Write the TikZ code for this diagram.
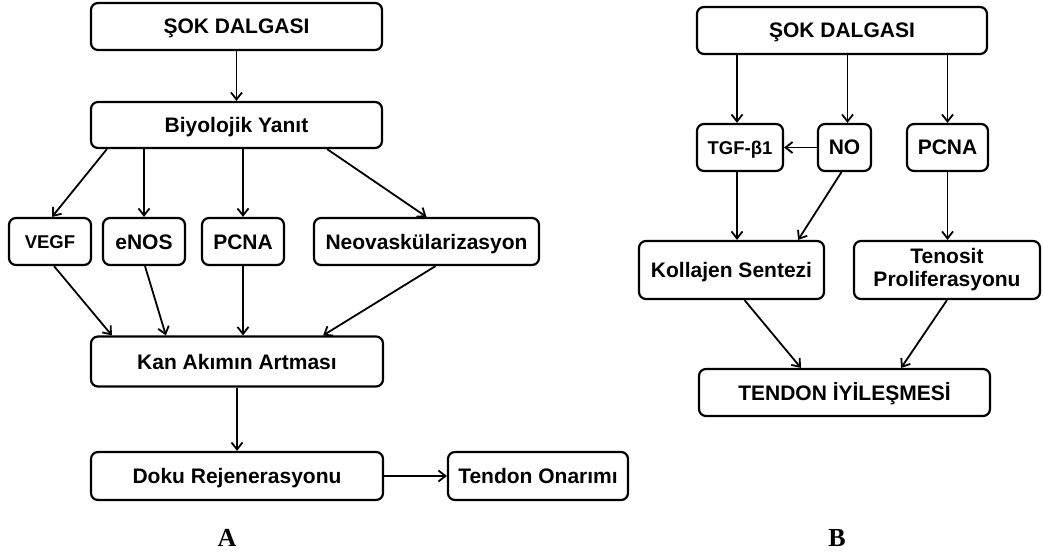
\documentclass[tikz,border=0pt]{standalone}
\usepackage{fontspec}
\setmainfont{Liberation Sans}
\newfontfamily\labelfont{Liberation Serif}
\usetikzlibrary{arrows.meta,calc}
\tikzset{
  mbox/.style={draw=black, line width=2.2pt, rounded corners=7pt, inner sep=0pt,
    align=center, font=\fontsize{21}{23}\selectfont\bfseries},
  box/.style={mbox, text height=15pt, text depth=0pt},
  smallbox/.style={box, font=\fontsize{18.5}{22}\selectfont\bfseries, text height=13.3pt},
  arr/.style={line width=1.8pt, -{Straight Barb[length=7pt,width=11pt,line width=1.8pt]}},
  panel/.style={font=\fontsize{26}{28}\selectfont\labelfont\bfseries}
}
\begin{document}
\begin{tikzpicture}[x=1pt,y=-1pt]
\useasboundingbox (0,0) rectangle (1043,556);
% Panel A
\node[box, minimum width=291pt, minimum height=47pt] (s1) at (236.5,26.5) {ŞOK DALGASI};
\node[box, minimum width=291pt, minimum height=46pt] (bio) at (236.5,125) {Biyolojik Yanıt};
\node[smallbox, minimum width=82pt, minimum height=47pt] (vegf) at (50,241.5) {VEGF};
\node[box, minimum width=82pt, minimum height=47pt] (enos) at (144,241.5) {eNOS};
\node[box, minimum width=82pt, minimum height=47pt] (pcna) at (243,241.5) {PCNA};
\node[box, minimum width=225pt, minimum height=47pt] (neo) at (426.5,241.5) {Neovaskülarizasyon};
\node[box, minimum width=292pt, minimum height=50pt] (kan) at (237,361.5) {Kan Akımın Artması};
\node[box, minimum width=292pt, minimum height=48pt] (doku) at (237,476) {Doku Rejenerasyonu};
\node[box, minimum width=180pt, minimum height=48pt] (ton) at (538,476) {Tendon Onarımı};
\node[panel] (la) at (227,538) {A};

\draw[arr] (s1.south) -- (bio.north);
\draw[arr] ($(bio.south west)+(17,0)$) -- ($(vegf.north)+(2,0)$);
\draw[arr] (bio.south -| enos.north) -- (enos.north);
\draw[arr] (bio.south -| pcna.north) -- (pcna.north);
\draw[arr] ($(bio.south east)+(-56,0)$) -- (neo.north);
\draw[arr] ($(vegf.south)+(4,0)$) -- ($(kan.north west)+(22,0)$);
\draw[arr] ($(enos.south)+(1,0)$) -- ($(kan.north west)+(76,0)$);
\draw[arr] (pcna.south) -- (pcna.south |- kan.north);
\draw[arr] ($(neo.south)+(9,0)$) -- ($(kan.north east)+(-61,0)$);
\draw[arr] (kan.south) -- (doku.north);
\draw[arr] (doku.east) -- (ton.west);

% Panel B
\node[box, minimum width=290pt, minimum height=47pt] (s2) at (842,30.5) {ŞOK DALGASI};
\node[smallbox, minimum width=86pt, minimum height=47pt] (tgf) at (740,147.5) {TGF-β1};
\node[box, minimum width=53pt, minimum height=47pt] (no) at (844.5,147.5) {NO};
\node[box, minimum width=81pt, minimum height=47pt] (pcnab) at (947.5,147.5) {PCNA};
\node[box, minimum width=185pt, minimum height=58pt] (kol) at (731.5,270) {Kollajen Sentezi};
\node[mbox, minimum width=186pt, minimum height=58pt] (ten) at (947,270) {Tenosit\\Proliferasyonu};
\node[box, minimum width=291pt, minimum height=47pt] (tih) at (844.5,392.5) {TENDON İYİLEŞMESİ};
\node[panel] (lb) at (837,538) {B};

\draw[arr] ($(s2.south -| tgf.north)+(-3,0)$) -- ($(tgf.north)+(-3,0)$);
\draw[arr] ($(s2.south -| no.north)+(3,0)$) -- ($(no.north)+(3,0)$);
\draw[arr] (s2.south -| pcnab.north) -- (pcnab.north);
\draw[arr] (no.west) -- (tgf.east);
\draw[arr] ($(tgf.south)+(-3,0)$) -- ($(tgf.south |- kol.north)+(-3,0)$);
\draw[arr] ($(no.south)+(-3,0)$) -- ($(kol.north east)+(-27,0)$);
\draw[arr] (pcnab.south) -- (pcnab.south |- ten.north);
\draw[arr] ($(kol.south)+(13,0)$) -- ($(tih.north west)+(103,0)$);
\draw[arr] (ten.south) -- ($(tih.north east)+(-90,0)$);
\end{tikzpicture}
\end{document}
